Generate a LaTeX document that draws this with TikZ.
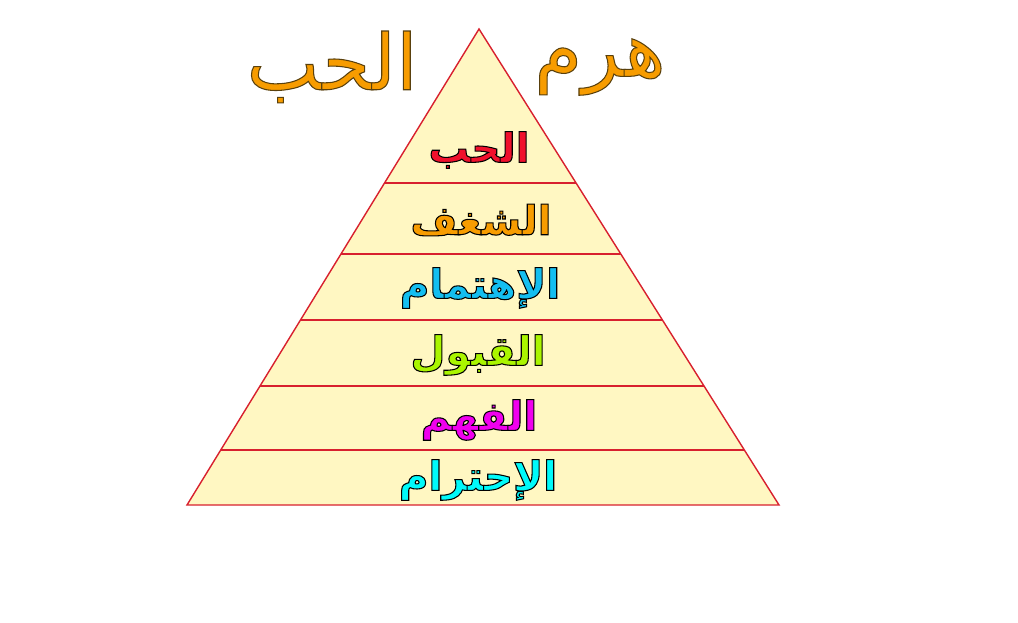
\documentclass[tikz,border=0pt]{standalone}
\usepackage{fontspec}
\usepackage{tikz}
\usetikzlibrary{calc}
\TeXXeTstate=1
\newfontfamily\arbd[Script=Arabic]{DejaVu Sans Bold}
\newfontfamily\arthin[Script=Arabic]{DejaVu Sans}
\definecolor{pyrfill}{HTML}{FFF7C2}
\definecolor{pyrline}{HTML}{D8202E}
\definecolor{lovered}{HTML}{F0102C}
\definecolor{loveorange}{HTML}{F79C00}
\definecolor{lovesky}{HTML}{14BEF0}
\definecolor{lovelime}{HTML}{AAF500}
\definecolor{lovemagenta}{HTML}{F000EE}
\definecolor{lovecyan}{HTML}{00FAFA}
% outlined arabic word: fill in colour, thin dark stroke round the glyphs
\newcommand\levelword[2]{{\color{#1}\special{pdf:literal direct 2 Tr 0 0 0 RG 0.6 w}\arbd\beginR #2\endR\special{pdf:literal direct 0 Tr}}}
\newcommand\titleword[1]{{\color{loveorange}\special{pdf:literal direct 2 Tr 0.35 0.25 0.05 RG 0.6 w}\arthin\beginR #1\endR\special{pdf:literal direct 0 Tr}}}

\begin{document}
\begin{tikzpicture}
\useasboundingbox (0,0) rectangle (20.36,12.44);

\coordinate (A) at (9.58,11.86) {};
\coordinate (L) at (3.74,2.34) {};
\coordinate (R) at (15.58,2.34) {};
%
\coordinate (l1) at ($(L)!0.6765!(A)$) {};
\coordinate (r1) at ($(R)!0.6765!(A)$) {};
\coordinate (l2) at ($(L)!0.5273!(A)$) {};
\coordinate (r2) at ($(R)!0.5273!(A)$) {};
\coordinate (l3) at ($(L)!0.3887!(A)$) {};
\coordinate (r3) at ($(R)!0.3887!(A)$) {};
\coordinate (l4) at ($(L)!0.25!(A)$) {};
\coordinate (r4) at ($(R)!0.25!(A)$) {};
\coordinate (l5) at ($(L)!0.1155!(A)$) {};
\coordinate (r5) at ($(R)!0.1155!(A)$) {};

%pyramid
\draw [pyrline, thick, fill=pyrfill, line join=miter] (A)--(L)--(R)--cycle;

%level lines
\draw [pyrline, semithick] (l1)--(r1);	 %level 1
\draw [pyrline, semithick] (l2)--(r2);	 %level 2
\draw [pyrline, semithick] (l3)--(r3);	 %level 3
\draw [pyrline, semithick] (l4)--(r4);	 %level 4
\draw [pyrline, semithick] (l5)--(r5);	 %level 5

%title
\node (haram) at (12.0,11.1) {\fontsize{44}{50}\selectfont\titleword{هرم}};
\node (hubb)  at (6.64,11.1) {\fontsize{44}{50}\selectfont\titleword{الحب}};

%levels
\node (love)    at (9.58,9.44) {\fontsize{23}{27}\selectfont\levelword{lovered}{الحب}};
\node (passion) at (9.62,8.04) {\fontsize{23}{27}\selectfont\levelword{loveorange}{الشغف}};
\node (care)    at (9.60,6.68) {\fontsize{23}{27}\selectfont\levelword{lovesky}{الإهتمام}};
\node (accept)  at (9.56,5.34) {\fontsize{23}{27}\selectfont\levelword{lovelime}{القبول}};
\node (underst) at (9.58,4.04) {\fontsize{23}{27}\selectfont\levelword{lovemagenta}{الفهم}};
\node (respect) at (9.56,2.84) {\fontsize{23}{27}\selectfont\levelword{lovecyan}{الإحترام}};

\end{tikzpicture}
\end{document}
